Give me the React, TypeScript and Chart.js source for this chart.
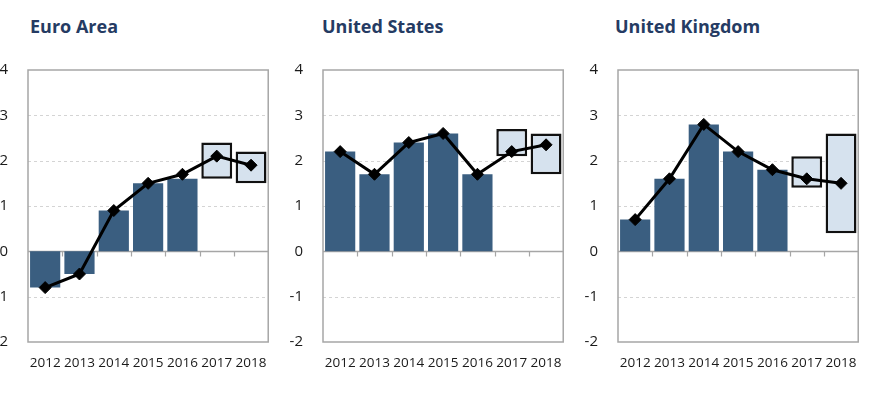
import React, { useEffect, useRef } from "react";
import { Chart, registerables } from "chart.js";

Chart.register(...registerables);

// ---- Data ----
const years = ["2012", "2013", "2014", "2015", "2016", "2017", "2018"];
const yMin = -2;
const yMax = 4;

const euroTitle = "Euro Area";
const euroActual = [-0.8, -0.5, 0.9, 1.5, 1.6, null, null];
const euroLine = [-0.8, -0.5, 0.9, 1.5, 1.7, 2.1, 1.9];
const euroLow = [null, null, null, null, null, 1.6, 1.5];
const euroHigh = [null, null, null, null, null, 2.4, 2.2];

const usTitle = "United States";
const usActual = [2.2, 1.7, 2.4, 2.6, 1.7, null, null];
const usLine = [2.2, 1.7, 2.4, 2.6, 1.7, 2.2, 2.35];
const usLow = [null, null, null, null, null, 2.1, 1.7];
const usHigh = [null, null, null, null, null, 2.7, 2.6];

const ukTitle = "United Kingdom";
const ukActual = [0.7, 1.6, 2.8, 2.2, 1.8, null, null];
const ukLine = [0.7, 1.6, 2.8, 2.2, 1.8, 1.6, 1.5];
const ukLow = [null, null, null, null, null, 1.4, 0.4];
const ukHigh = [null, null, null, null, null, 2.1, 2.6];

// ---- Layout constants ----
const PLOT_TOP = 70;
const PLOT_BOTTOM = 342;
const PLOT_WIDTH = 247;
const Y_AXIS_W = 45;
const X_AXIS_H = 30;
const RIGHT_PAD = 5;
const CANVAS_H = 408;
const CANVAS_W = Y_AXIS_W + PLOT_WIDTH + RIGHT_PAD;

const panelGrid = {
  id: "panelGrid",
  beforeDatasetsDraw(chart: any) {
    const { ctx, chartArea, scales } = chart;
    const { left, right, top, bottom } = chartArea;
    const x = scales.x;
    const y = scales.y;
    ctx.save();
    // dashed gridlines
    ctx.strokeStyle = "#d4d4d4";
    ctx.lineWidth = 1;
    ctx.setLineDash([3, 3]);
    for (const t of y.ticks) {
      const v = t.value;
      if (v === 0 || v === yMin || v === yMax) continue;
      const py = Math.round(y.getPixelForValue(v)) + 0.5;
      ctx.beginPath();
      ctx.moveTo(left, py);
      ctx.lineTo(right, py);
      ctx.stroke();
    }
    ctx.setLineDash([]);
    // zero line
    const y0 = Math.round(y.getPixelForValue(0)) + 0.5;
    ctx.strokeStyle = "#a6a6a6";
    ctx.lineWidth = 1.5;
    ctx.beginPath();
    ctx.moveTo(left, y0);
    ctx.lineTo(right, y0);
    ctx.stroke();
    // tick marks at category boundaries
    ctx.lineWidth = 1.2;
    const n = chart.data.labels.length;
    for (let i = 1; i < n; i++) {
      const px = Math.round((x.getPixelForValue(i - 1) + x.getPixelForValue(i)) / 2) + 0.5;
      ctx.beginPath();
      ctx.moveTo(px, y0);
      ctx.lineTo(px, y0 + 5);
      ctx.stroke();
    }
    // border
    ctx.strokeStyle = "#a6a6a6";
    ctx.lineWidth = 1.5;
    ctx.strokeRect(left, top, right - left, bottom - top);
    ctx.restore();
  },
};

type PanelProps = {
  title: string;
  actual: (number | null)[];
  line: number[];
  low: (number | null)[];
  high: (number | null)[];
  plotLeft: number;
  titleLeft: number;
};

function Panel({ title, actual, line, low, high, plotLeft, titleLeft }: PanelProps) {
  const ref = useRef<HTMLCanvasElement | null>(null);

  useEffect(() => {
    if (!ref.current) return;
    const ranges = low.map((l, i) => (l === null || high[i] === null ? null : [l, high[i]]));
    const chart = new Chart(ref.current, {
      type: "bar",
      data: {
        labels: years,
        datasets: [
          {
            type: "line",
            data: line,
            borderColor: "#000000",
            backgroundColor: "#000000",
            borderWidth: 3,
            pointStyle: "rectRot",
            pointRadius: 6,
            pointBorderWidth: 1,
            pointBackgroundColor: "#000000",
            pointBorderColor: "#000000",
            tension: 0,
            order: 0,
          } as any,
          {
            type: "bar",
            data: actual as any,
            backgroundColor: "#3a5e80",
            borderWidth: 0,
            barPercentage: 0.88,
            categoryPercentage: 1,
            grouped: false,
            order: 2,
          } as any,
          {
            type: "bar",
            data: ranges as any,
            backgroundColor: "#d6e2ee",
            borderColor: "#111111",
            borderWidth: 2.5,
            borderSkipped: false,
            barPercentage: 0.9,
            categoryPercentage: 1,
            grouped: false,
            order: 1,
          } as any,
        ],
      },
      options: {
        animation: false,
        responsive: false,
        maintainAspectRatio: false,
        layout: {
          padding: {
            left: 0,
            right: RIGHT_PAD,
            top: PLOT_TOP,
            bottom: CANVAS_H - PLOT_BOTTOM - X_AXIS_H,
          },
        },
        plugins: {
          legend: { display: false },
          tooltip: { enabled: false },
          title: { display: false },
        },
        scales: {
          x: {
            type: "category",
            offset: true,
            grid: { display: false, drawTicks: false },
            border: { display: false },
            ticks: {
              color: "#1a1a1a",
              font: { family: "'Open Sans', sans-serif", size: 13.5 },
              padding: 13,
              maxRotation: 0,
              autoSkip: false,
            },
            afterFit: (s: any) => {
              s.height = X_AXIS_H;
            },
          },
          y: {
            min: yMin,
            max: yMax,
            grid: { display: false, drawTicks: false },
            border: { display: false },
            ticks: {
              stepSize: 1,
              color: "#1a1a1a",
              font: { family: "'Open Sans', sans-serif", size: 15 },
              padding: 20,
            },
            afterFit: (s: any) => {
              s.width = Y_AXIS_W;
            },
          },
        },
      },
      plugins: [panelGrid],
    } as any);
    return () => chart.destroy();
  }, []);

  return (
    <>
      <div
        style={{
          position: "absolute",
          left: titleLeft,
          top: 17,
          fontFamily: "'Open Sans', sans-serif",
          fontWeight: 700,
          fontSize: 18,
          lineHeight: "18px",
          color: "#253b63",
          whiteSpace: "nowrap",
        }}
      >
        {title}
      </div>
      <canvas
        ref={ref}
        width={CANVAS_W}
        height={CANVAS_H}
        style={{
          position: "absolute",
          left: plotLeft - Y_AXIS_W,
          top: 0,
          width: CANVAS_W,
          height: CANVAS_H,
        }}
      />
    </>
  );
}

export default function App() {
  return (
    <div
      style={{
        position: "fixed",
        left: 0,
        top: 0,
        width: 877,
        height: 408,
        overflow: "hidden",
        background: "#ffffff",
      }}
    >
      <Panel title={euroTitle} actual={euroActual} line={euroLine} low={euroLow} high={euroHigh} plotLeft={28} titleLeft={30} />
      <Panel title={usTitle} actual={usActual} line={usLine} low={usLow} high={usHigh} plotLeft={323} titleLeft={322} />
      <Panel title={ukTitle} actual={ukActual} line={ukLine} low={ukLow} high={ukHigh} plotLeft={618} titleLeft={615} />
    </div>
  );
}
